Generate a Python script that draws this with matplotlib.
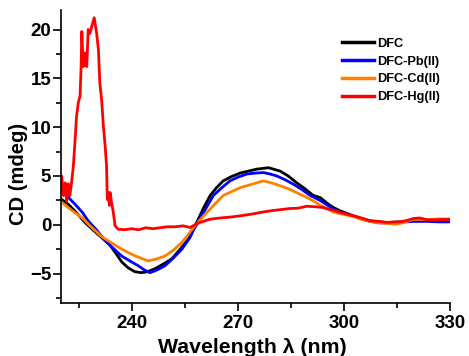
import matplotlib
matplotlib.use("Agg")
import matplotlib.pyplot as plt
from matplotlib.ticker import MultipleLocator

plt.rcParams['font.family'] = ['Liberation Sans', 'DejaVu Sans']
plt.rcParams['font.weight'] = 'bold'

# DFC (black)
dfc_x = [220.2, 222.1, 224.5, 226.8, 229.0, 231.5, 233.9, 235.5, 237.2, 239.0, 240.9, 242.8, 244.5, 246.6, 249.0,
         251.3, 253.5, 256.0, 257.4, 258.4, 260.3, 262.2, 264.0, 265.9, 268.3, 270.7, 273.0, 275.4, 278.7, 282.0,
         284.3, 286.7, 289.0, 291.4, 293.3, 295.7, 297.1, 299.0, 302.7, 305.0, 307.5, 310.0, 312.2, 316.0, 319.7,
         323.6, 327.0, 330.0]
dfc_y = [2.6, 2.1, 1.2, 0.24, -0.5, -1.3, -2.1, -2.9, -3.8, -4.4, -4.8, -4.9, -4.8, -4.5, -4.0,
         -3.5, -2.6, -1.5, -0.4, 0.24, 1.7, 3.0, 3.8, 4.5, 4.95, 5.3, 5.5, 5.7, 5.85, 5.5,
         5.0, 4.3, 3.7, 3.0, 2.8, 2.1, 1.77, 1.43, 0.92, 0.65, 0.41, 0.3, 0.24, 0.3, 0.5,
         0.45, 0.4, 0.4]

# DFC-Pb(II) (blue)
pb_x = [221.6, 224.0, 226.0, 227.7, 230.0, 232.0, 234.5, 237.2, 239.5, 241.9, 243.5, 245.2, 247.3, 249.4, 251.8,
        254.2, 256.5, 257.4, 259.3, 261.2, 263.1, 265.5, 267.8, 270.2, 272.6, 275.0, 277.3, 279.2, 281.1, 283.5,
        285.8, 288.2, 290.5, 293.3, 295.7, 297.1, 299.0, 302.7, 305.0, 307.5, 310.0, 312.2, 316.0, 319.7, 323.6,
        327.0, 330.0]
pb_y = [3.0, 2.1, 1.3, 0.4, -0.5, -1.4, -2.3, -3.2, -3.7, -4.2, -4.6, -4.9, -4.6, -4.2, -3.4,
        -2.5, -1.3, -0.6, 0.6, 1.8, 3.0, 3.8, 4.5, 4.9, 5.2, 5.3, 5.35, 5.2, 5.0, 4.6,
        4.15, 3.6, 3.0, 2.5, 1.94, 1.6, 1.3, 0.9, 0.6, 0.35, 0.2, 0.2, 0.25, 0.35, 0.35,
        0.3, 0.3]

# DFC-Cd(II) (orange)
cd_x = [220.2, 223.0, 225.9, 228.5, 231.5, 234.5, 237.2, 240.5, 242.5, 244.7, 247.0, 249.4, 251.8, 254.2, 256.0,
        257.4, 258.4, 260.3, 262.2, 264.0, 265.9, 268.3, 270.7, 273.5, 277.3, 279.5, 282.0, 284.3, 286.7, 289.0,
        291.4, 293.3, 295.7, 297.1, 299.0, 302.7, 305.0, 307.5, 310.0, 312.2, 314.5, 316.0, 319.7, 323.6, 327.0,
        330.0]
cd_y = [2.3, 1.5, 0.75, -0.2, -1.2, -1.9, -2.5, -3.1, -3.4, -3.7, -3.5, -3.2, -2.6, -1.8, -1.0,
        -0.3, 0.1, 0.9, 1.6, 2.3, 3.0, 3.4, 3.8, 4.1, 4.5, 4.3, 4.0, 3.7, 3.3, 2.9,
        2.45, 2.0, 1.6, 1.3, 1.15, 0.85, 0.55, 0.35, 0.2, 0.15, 0.05, 0.15, 0.55, 0.55, 0.6,
        0.6]

# DFC-Hg(II) (red)
hg_x = [220.0, 220.2, 220.7, 221.2, 221.6, 222.1, 222.5, 222.9, 223.5, 224.0, 224.4, 224.9, 225.4, 225.7, 225.9,
        226.3, 226.8, 227.3, 227.7, 228.2, 228.7, 229.4, 230.1, 230.6, 231.0, 231.5, 232.0, 232.5, 232.9, 233.1,
        233.4, 233.7, 233.9, 234.3, 234.8, 235.3, 236.2, 238.0, 240.0, 242.0, 244.0, 246.0, 248.0, 250.0, 252.5,
        254.5, 256.5, 259.0, 262.2, 265.0, 268.0, 270.7, 274.0, 277.0, 279.2, 282.0, 284.8, 287.0, 289.5, 292.0,
        294.2, 295.7, 297.5, 299.0, 302.7, 305.0, 307.5, 310.0, 312.2, 314.5, 316.0, 318.0, 319.7, 321.5, 323.6,
        326.0, 328.0, 330.0]
hg_y = [3.5, 5.0, 3.0, 4.3, 2.4, 4.2, 3.0, 4.0, 6.0, 8.7, 11.1, 12.5, 13.2, 16.2, 19.8,
        16.2, 17.6, 16.2, 20.0, 19.6, 20.3, 21.2, 19.6, 17.9, 14.5, 12.8, 10.1, 8.1, 6.0, 2.6,
        3.3, 2.0, 3.3, 2.3, 1.3, -0.1, -0.45, -0.5, -0.4, -0.5, -0.3, -0.4, -0.3, -0.2, -0.2,
        -0.1, -0.27, 0.2, 0.58, 0.7, 0.8, 0.92, 1.1, 1.3, 1.43, 1.55, 1.67, 1.7, 1.9, 1.85,
        1.77, 1.6, 1.45, 1.26, 0.92, 0.7, 0.41, 0.35, 0.24, 0.3, 0.3, 0.45, 0.65, 0.7, 0.51,
        0.5, 0.55, 0.55]

series = [
    ("DFC", dfc_x, dfc_y, "#000000"),
    ("DFC-Pb(II)", pb_x, pb_y, "#0000ff"),
    ("DFC-Cd(II)", cd_x, cd_y, "#ff7f00"),
    ("DFC-Hg(II)", hg_x, hg_y, "#ff0000"),
]

fig = plt.figure(figsize=(4.69, 3.56), dpi=100)
ax = fig.add_axes([0.130, 0.149, 0.829, 0.823])

for name, xs, ys, c in series:
    ax.plot(xs, ys, color=c, lw=2.0, label=name)

ax.set_xlim(220, 330)
ax.set_ylim(-8, 22)
ax.set_xticks([240, 270, 300, 330])
ax.xaxis.set_minor_locator(MultipleLocator(15))
ax.yaxis.set_major_locator(MultipleLocator(5))
ax.yaxis.set_minor_locator(MultipleLocator(2.5))

for s in ['top', 'right']:
    ax.spines[s].set_visible(False)
for s in ['left', 'bottom']:
    ax.spines[s].set_linewidth(1.2)

ax.tick_params(which='major', direction='out', length=6, width=1.2, labelsize=13.5)
ax.tick_params(axis='x', which='major', pad=3)
ax.tick_params(axis='y', which='major', pad=1)
ax.tick_params(which='minor', direction='out', length=3.5, width=1.2)
for lab in ax.get_xticklabels() + ax.get_yticklabels():
    lab.set_fontweight('bold')

ax.set_xlabel("Wavelength λ (nm)", fontsize=15.3, fontweight='bold')
ax.set_ylabel("CD (mdeg)", fontsize=14.5, fontweight='bold')
ax.xaxis.set_label_coords(0.493, -0.12)
ax.yaxis.set_label_coords(-0.085, 0.44)
ax.xaxis.label.set_va('top')

leg = ax.legend(loc='upper left', bbox_to_anchor=(0.722, 0.905), frameon=False,
                prop={'weight': 'bold', 'size': 9.2}, handlelength=2.5, handletextpad=0.3,
                labelspacing=0.45, borderpad=0, borderaxespad=0)
for h in leg.get_lines():
    h.set_linewidth(2.5)

fig.savefig("out.png", dpi=100)
